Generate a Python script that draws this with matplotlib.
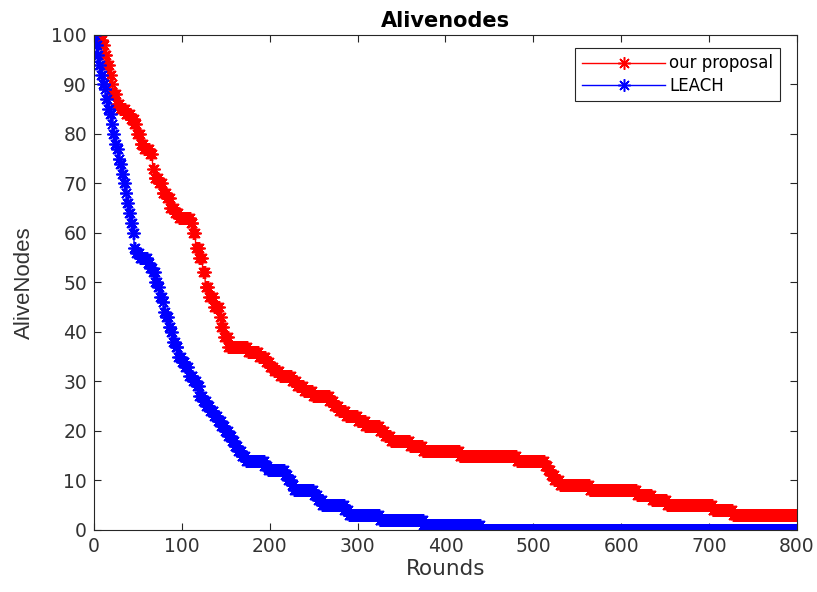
import numpy as np
import matplotlib
matplotlib.use("Agg")
import matplotlib.pyplot as plt

# rounds where the alive count changes, and the new count from that round on
last_round = 800

proposal_rounds = [0, 5, 10, 12, 15, 18, 20, 22, 26, 30, 36, 42, 46, 49, 53, 57, 64, 67,
                   69, 74, 78, 83, 87, 92, 97, 110, 113, 116, 120, 124, 127, 131, 137, 143,
                   145, 148, 153, 175, 188, 196, 200, 205, 212, 225, 231, 239, 249, 268,
                   273, 279, 287, 300, 309, 325, 331, 338, 360, 374, 416, 481, 513, 517,
                   520, 524, 530, 564, 618, 635, 652, 704, 727]
proposal_alive = [100, 99, 98, 96, 94, 92, 90, 88, 86, 85, 84, 83, 82, 80, 78, 77, 76, 73,
                  71, 70, 68, 67, 65, 64, 63, 62, 60, 57, 55, 52, 49, 47, 45, 43,
                  41, 39, 37, 36, 35, 34, 33, 32, 31, 30, 29, 28, 27, 26,
                  25, 24, 23, 22, 21, 20, 19, 18, 17, 16, 15, 14, 13, 12,
                  11, 10, 9, 8, 7, 6, 5, 4, 3]

leach_rounds = [0, 2, 4, 6, 8, 10, 12, 14, 16, 18, 20, 22, 24, 26, 28, 30, 32, 34, 36, 38,
                40, 42, 44, 46, 48, 52, 61, 64, 67, 70, 73, 75, 78, 80, 82, 85, 88, 90,
                93, 96, 100, 104, 108, 113, 117, 120, 124, 128, 132, 137, 141, 145, 149,
                153, 157, 160, 164, 168, 173, 194, 198, 217, 221, 225, 228, 250, 255,
                260, 285, 290, 325, 375, 440]
leach_alive = [100, 98, 96, 94, 92, 90, 89, 87, 85, 84, 82, 80, 78, 77, 75, 74, 72, 70, 68, 66,
               64, 62, 60, 57, 56, 55, 54, 53, 52, 50, 49, 47, 46, 44, 43, 41, 40, 38,
               37, 35, 34, 33, 31, 30, 29, 27, 26, 25, 24, 23, 22, 21, 20,
               19, 18, 17, 16, 15, 14, 13, 12, 11, 10, 9, 8, 7, 6,
               5, 4, 3, 2, 1, 0]


def per_round(starts, values):
    # hold each value until the next change point
    starts = np.asarray(starts)
    counts = np.diff(np.append(starts, last_round + 1))
    return np.repeat(values, counts)


rounds = np.arange(0, last_round + 1)
proposal = per_round(proposal_rounds, proposal_alive)
leach = per_round(leach_rounds, leach_alive)

fig = plt.figure(figsize=(8.17, 5.92), dpi=100)
ax = fig.add_axes([0.115, 0.105, 0.8605, 0.836])

star = (8, 2, 0)  # matlab style asterisk
ax.plot(rounds, proposal, color='red', lw=1, marker=star, markersize=9,
        markeredgewidth=1.1, label='our proposal')
ax.plot(rounds, leach, color='blue', lw=1, marker=star, markersize=9,
        markeredgewidth=1.1, label='LEACH')

ax.set_xlim(0, 800)
ax.set_ylim(0, 100)
ax.set_xticks(np.arange(0, 801, 100))
ax.set_yticks(np.arange(0, 101, 10))
ax.tick_params(direction='in', top=True, right=True, labelsize=13.5,
               length=5, width=0.8, pad=5, color='#262626', labelcolor='#333333')
for s in ax.spines.values():
    s.set_color('#262626')
    s.set_linewidth(0.8)

ax.set_title('Alivenodes', fontsize=15, fontweight='bold', pad=6)
ax.set_xlabel('Rounds', fontsize=15.5, color='#333333', labelpad=2)
ax.set_ylabel('AliveNodes', fontsize=16, color='#333333', labelpad=12,
              family=['Liberation Sans', 'DejaVu Sans'])

leg = ax.legend(loc='upper right', fontsize=12, fancybox=False, framealpha=1,
                edgecolor='#262626', borderpad=0.4, handlelength=5.0,
                handletextpad=0.25, labelspacing=0.25, borderaxespad=0,
                bbox_to_anchor=(0.976, 0.974))
leg.get_frame().set_linewidth(0.8)

fig.savefig('out.png', dpi=100)
